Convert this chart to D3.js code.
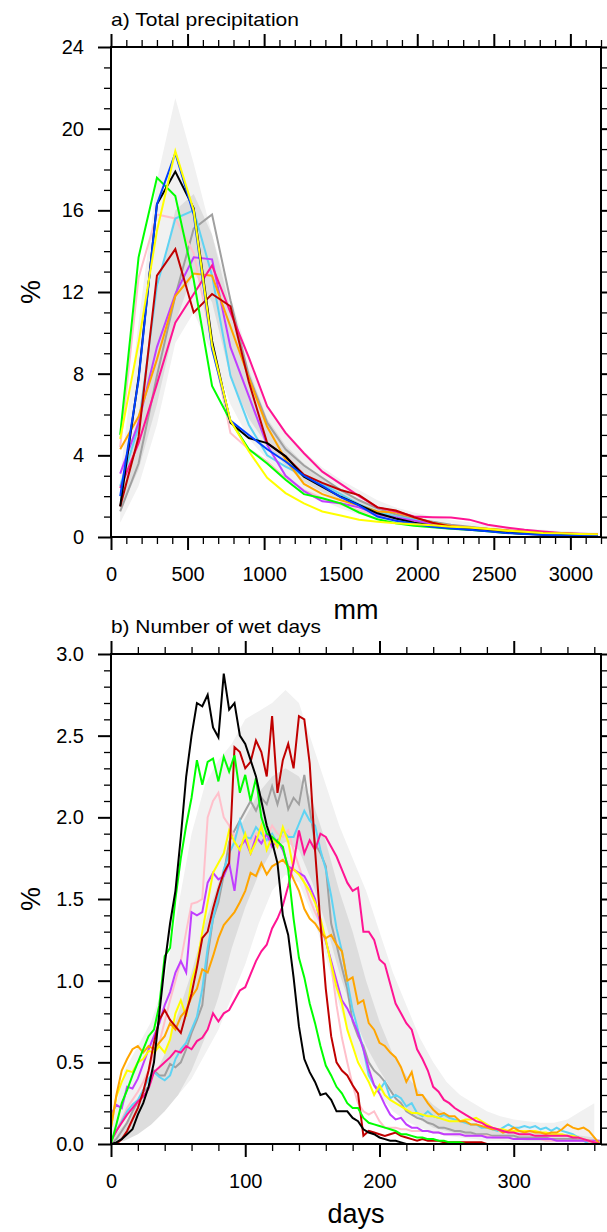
<!DOCTYPE html>
<html>
<head>
<meta charset="utf-8">
<script src="https://cdn.jsdelivr.net/npm/d3@7"></script>
<style>
  body { margin: 0; background: #fff; }
  svg text { font-family: "Liberation Sans", Arial, Helvetica, sans-serif; fill: #000; }
</style>
</head>
<body>
<div id="chart"></div>
<script>
// ---- panel a: total precipitation (% of grid cells per 120 mm bin)
const binCenters = [60,180,300,420,540,660,780,900,1020,1140,1260,1380,1500,1620,1740,1860,1980,2100,2220,2340,2460,2580,2700,2820,2940,3060,3180];

const precipBlack  = [1.5,7.8,16.3,17.9,16.1,9.6,5.6,4.85,4.6,3.95,2.95,2.45,1.97,1.57,1.16,0.91,0.7,0.55,0.45,0.37,0.3,0.22,0.16,0.11,0.08,0.06,0.05];
const precipRed    = [1.5,4.9,12.8,14.1,11.0,11.9,11.3,7.6,4.6,3.95,3.05,2.65,2.3,2.05,1.45,1.3,0.97,0.7,0.5,0.4,0.32,0.28,0.24,0.2,0.17,0.13,0.11];
const precipGreen  = [5.0,13.7,17.6,16.7,12.6,7.4,5.7,4.3,3.6,2.8,2.1,1.9,1.65,1.2,0.87,0.67,0.55,0.48,0.41,0.36,0.28,0.2,0.17,0.15,0.12,0.1,0.09];
const precipBlue   = [2.0,7.7,16.3,18.8,15.8,9.2,5.7,5.0,4.3,3.7,3.0,2.5,1.95,1.55,1.0,0.8,0.65,0.5,0.42,0.35,0.28,0.2,0.15,0.11,0.08,0.06,0.05];
const precipYellow = [4.8,9.5,15.0,18.9,16.0,9.4,5.7,4.2,2.9,2.15,1.65,1.25,1.05,0.85,0.75,0.67,0.62,0.57,0.5,0.46,0.39,0.31,0.26,0.2,0.18,0.15,0.13];
const precipCyan   = [2.5,5.4,12.3,15.6,16.0,12.8,7.9,5.5,4.0,3.45,3.0,2.6,2.1,1.6,1.25,1.0,0.85,0.7,0.55,0.45,0.38,0.3,0.25,0.2,0.17,0.14,0.12];
const precipPink   = [4.4,12.7,15.8,15.6,13.9,9.5,5.1,4.3,3.7,2.9,2.3,1.9,1.6,1.3,1.05,0.85,0.7,0.6,0.5,0.42,0.35,0.28,0.22,0.17,0.13,0.1,0.08];
const precipGray   = [1.25,3.6,7.9,11.8,15.1,15.8,11.6,7.9,5.6,4.3,3.5,2.9,2.3,1.8,1.4,1.1,0.9,0.75,0.6,0.5,0.4,0.33,0.27,0.22,0.18,0.15,0.13];
const precipPurple = [3.1,5.6,9.3,11.9,13.7,13.6,9.3,6.9,4.5,3.0,2.25,1.75,1.65,1.45,1.1,0.95,0.8,0.65,0.55,0.45,0.37,0.3,0.24,0.2,0.16,0.13,0.11];
const precipOrange = [4.3,5.9,8.7,11.8,12.9,12.8,10.3,7.8,5.4,3.8,2.6,2.1,1.8,1.55,1.25,1.2,0.96,0.7,0.55,0.47,0.4,0.33,0.27,0.22,0.18,0.14,0.12];
const precipMagenta= [2.4,4.6,7.5,10.5,11.9,13.3,11.0,8.8,6.4,5.1,4.1,3.2,2.6,2.0,1.45,1.25,1.0,0.97,0.95,0.85,0.6,0.47,0.35,0.27,0.2,0.16,0.13];

const precipOuterLo = [0.7,2.5,5.5,9.5,11.0,9.0,6.5,4.8,3.8,3.0,2.3,1.8,1.4,1.1,0.85,0.68,0.55,0.45,0.36,0.29,0.23,0.18,0.14,0.11,0.08,0.06,0.05];
const precipOuterHi = [3.0,10.5,17.5,21.5,18.3,14.8,11.8,8.8,6.5,5.2,4.2,3.4,2.8,2.3,1.8,1.45,1.2,1.0,0.85,0.72,0.6,0.5,0.42,0.35,0.3,0.25,0.22];
const precipInnerLo = [1.3,3.3,6.5,10.5,13.0,11.5,7.8,5.8,4.5,3.5,2.7,2.2,1.8,1.4,1.1,0.9,0.72,0.58,0.47,0.38,0.3,0.24,0.19,0.15,0.12,0.1,0.08];
const precipInnerHi = [2.0,6.0,12.0,16.0,16.8,14.8,11.2,8.2,5.8,4.5,3.6,2.9,2.3,1.85,1.45,1.15,0.95,0.78,0.64,0.52,0.42,0.34,0.27,0.22,0.18,0.15,0.12];

const precipXTicks = [0,500,1000,1500,2000,2500,3000];
const precipYTicks = [0,4,8,12,16,20,24];

// ---- panel b: number of wet days (% of grid cells per day)
const dayPoints = [0,4,8,12,16,20,24,28,32,36,40,44,48,52,56,60,64,68,72,76,80,84,88,92,96,100,104,108,112,116,120,124,128,132,136,140,144,148,152,156,160,164,168,172,176,180,184,188,192,196,200,204,208,212,216,220,224,228,232,236,240,244,248,252,256,260,264,268,272,276,280,284,288,292,296,300,304,308,312,316,320,324,328,332,336,340,344,348,352,356,360,364];

const wetBlack = [0,0.01,0.03,0.06,0.09,0.18,0.25,0.35,0.5,0.8,
  1.1,1.35,1.55,1.88,2.25,2.5,2.7,2.68,2.75,2.55,
  2.49,2.88,2.66,2.7,2.5,2.45,2.35,2.25,2.1,1.95,
  1.85,1.72,1.4,1.28,1.02,0.72,0.52,0.44,0.38,0.3,
  0.31,0.27,0.2,0.2,0.2,0.16,0.14,0.09,0.07,0.06,
  0.04,0.03,0.02,0.02,0.01,0,0,0,0,0,
  0,0,0,0,0,0,0,0,0,0,
  0,0,0,0,0,0,0,0,0,0,
  0,0,0,0,0,0,0,0,0,0,
  0,0];
const wetGreen = [0,0.12,0.25,0.33,0.42,0.5,0.58,0.66,0.7,0.85,
  1.15,1.2,1.5,1.75,1.95,2.12,2.35,2.2,2.34,2.36,
  2.22,2.37,2.28,2.38,2.15,2.26,2.1,2.24,2.0,1.9,
  1.88,1.85,1.82,1.68,1.38,1.14,1.02,0.86,0.74,0.6,
  0.48,0.42,0.35,0.31,0.25,0.22,0.22,0.16,0.13,0.12,
  0.11,0.1,0.09,0.08,0.06,0.06,0.05,0.04,0.04,0.03,
  0.03,0.02,0.02,0.01,0.01,0.01,0,0,0,0,
  0,0,0,0,0,0,0,0,0,0,
  0,0,0,0,0,0,0,0,0,0,
  0,0];
const wetRed = [0,0,0.03,0.08,0.15,0.22,0.32,0.45,0.62,0.76,
  0.82,0.76,0.72,0.68,0.8,0.92,1.08,1.26,1.3,1.44,
  1.56,1.66,1.72,2.43,2.4,2.3,2.34,2.47,2.4,2.25,
  2.62,2.15,2.35,2.45,2.3,2.62,2.6,2.33,1.8,1.35,
  0.95,0.66,0.5,0.45,0.42,0.36,0.31,0.05,0.08,0.07,
  0.06,0.05,0.06,0.07,0.05,0.04,0.03,0.02,0.03,0.02,
  0.02,0.02,0.01,0.01,0.01,0.01,0.01,0.01,0.01,0.01,
  0,0,0,0,0,0,0,0,0,0,
  0,0,0,0,0,0,0,0,0,0,
  0,0];
const wetPink = [0,0.08,0.15,0.22,0.27,0.32,0.38,0.45,0.55,0.62,
  0.75,0.88,1.0,1.12,1.3,1.47,1.48,1.5,2.0,2.1,
  2.15,2.0,1.95,1.88,1.95,1.9,1.85,1.9,1.92,1.88,
  1.95,1.9,1.88,1.92,1.8,1.7,1.6,1.5,1.42,1.35,
  1.25,1.1,0.85,0.65,0.5,0.36,0.25,0.2,0.18,0.2,
  0.14,0.1,0.1,0.1,0.09,0.09,0.08,0.08,0.08,0.08,
  0.07,0.07,0.06,0.06,0.06,0.06,0.05,0.05,0.05,0.05,
  0.05,0.04,0.04,0.04,0.04,0.03,0.03,0.03,0.03,0.03,
  0.03,0.02,0.02,0.02,0.02,0.02,0.02,0.02,0.02,0.01,
  0.01,0];
const wetGray = [0,0.03,0.08,0.13,0.2,0.26,0.32,0.35,0.45,0.42,
  0.42,0.49,0.47,0.5,0.58,0.68,0.76,0.85,1.15,1.38,
  1.48,1.65,1.85,1.92,1.98,2.04,2.1,2.04,2.12,2.08,
  2.19,2.08,2.2,2.05,2.12,2.08,2.26,2.05,1.84,1.78,
  1.7,1.35,1.22,1.08,0.95,0.75,0.66,0.6,0.5,0.45,
  0.42,0.38,0.33,0.28,0.25,0.2,0.18,0.16,0.15,0.13,
  0.12,0.1,0.1,0.09,0.08,0.08,0.07,0.07,0.06,0.06,
  0.06,0.05,0.05,0.05,0.05,0.05,0.04,0.04,0.04,0.04,
  0.04,0.04,0.03,0.03,0.03,0.03,0.03,0.03,0.02,0.02,
  0.02,0.02];
const wetYellow = [0.1,0.29,0.38,0.45,0.44,0.5,0.52,0.57,0.56,0.6,
  0.56,0.64,0.8,0.88,0.78,1.0,1.1,1.3,1.48,1.66,
  1.72,1.78,1.92,1.85,1.8,1.9,1.78,1.85,1.95,1.8,
  1.88,1.82,1.94,1.85,1.68,1.65,1.6,1.55,1.48,1.38,
  1.25,1.1,0.96,0.86,0.7,0.6,0.5,0.44,0.38,0.3,
  0.36,0.3,0.27,0.25,0.23,0.21,0.19,0.19,0.18,0.17,
  0.17,0.16,0.15,0.14,0.14,0.14,0.15,0.15,0.16,0.14,
  0.12,0.1,0.09,0.09,0.08,0.08,0.08,0.08,0.08,0.08,
  0.07,0.07,0.06,0.06,0.06,0.05,0.05,0.04,0.03,0.02,
  0.01,0];
const wetCyan = [0.02,0.08,0.14,0.2,0.24,0.27,0.33,0.4,0.44,0.41,
  0.39,0.42,0.52,0.58,0.62,0.7,0.78,0.95,1.2,1.38,
  1.52,1.68,1.78,1.85,1.98,1.88,1.87,1.94,1.9,1.86,
  1.9,1.84,1.92,1.88,1.88,1.96,2.04,1.98,1.95,1.8,
  1.68,1.52,1.32,1.18,1.0,0.82,0.7,0.58,0.42,0.36,
  0.33,0.38,0.28,0.3,0.28,0.23,0.25,0.19,0.17,0.2,
  0.17,0.16,0.18,0.16,0.15,0.14,0.13,0.12,0.12,0.1,
  0.1,0.09,0.08,0.1,0.12,0.1,0.1,0.11,0.1,0.11,
  0.09,0.1,0.08,0.1,0.08,0.07,0.06,0.04,0.02,0,
  0,0];
const wetPurple = [0.18,0.24,0.22,0.35,0.34,0.4,0.49,0.58,0.66,0.74,
  0.85,0.93,1.05,1.12,1.05,1.42,1.4,1.42,1.6,1.66,
  1.62,1.64,1.72,1.55,1.82,1.86,1.78,1.88,1.84,1.9,
  1.82,1.86,1.8,1.7,1.68,1.66,1.64,1.58,1.5,1.35,
  1.24,1.12,1.0,0.88,0.83,0.76,0.68,0.58,0.46,0.36,
  0.31,0.24,0.18,0.15,0.16,0.12,0.1,0.1,0.08,0.08,
  0.07,0.07,0.06,0.06,0.06,0.06,0.05,0.05,0.05,0.05,
  0.04,0.04,0.04,0.04,0.04,0.03,0.03,0.03,0.03,0.03,
  0.03,0.03,0.03,0.02,0.02,0.02,0.02,0.02,0.02,0.02,
  0.02,0.02];
const wetOrange = [0.1,0.3,0.45,0.52,0.58,0.6,0.56,0.6,0.58,0.62,
  0.66,0.74,0.7,0.78,0.82,0.9,0.95,1.07,1.05,1.15,
  1.26,1.34,1.38,1.42,1.48,1.55,1.66,1.64,1.72,1.65,
  1.7,1.72,1.74,1.7,1.62,1.55,1.44,1.38,1.35,1.3,
  1.26,1.28,1.22,1.18,1.0,1.02,0.86,0.88,0.74,0.7,
  0.62,0.6,0.56,0.53,0.47,0.38,0.44,0.3,0.3,0.25,
  0.21,0.18,0.19,0.17,0.17,0.14,0.14,0.12,0.12,0.11,
  0.1,0.09,0.09,0.07,0.08,0.1,0.08,0.07,0.08,0.07,
  0.07,0.06,0.07,0.07,0.09,0.12,0.1,0.09,0.1,0.08,
  0.04,0];
const wetMagenta = [0.02,0.08,0.13,0.18,0.22,0.26,0.29,0.34,0.44,0.47,
  0.5,0.53,0.57,0.56,0.6,0.58,0.63,0.65,0.7,0.8,
  0.75,0.8,0.82,0.88,0.94,0.96,1.04,1.12,1.18,1.22,
  1.32,1.38,1.46,1.58,1.72,1.92,1.78,1.86,1.8,1.9,
  1.88,1.82,1.76,1.68,1.6,1.55,1.57,1.3,1.3,1.25,
  1.13,1.1,0.98,0.86,0.8,0.74,0.7,0.58,0.52,0.45,
  0.35,0.32,0.27,0.25,0.22,0.2,0.18,0.16,0.14,0.13,
  0.11,0.1,0.09,0.08,0.07,0.07,0.06,0.06,0.06,0.05,
  0.05,0.05,0.05,0.05,0.05,0.05,0.04,0.04,0.03,0.02,
  0.01,0];

const bandDays = [0,10,20,30,40,50,60,70,80,90,100,110,120,130,140,150,160,170,180,190,200,210,220,230,240,250,260,270,280,290,300,310,320,330,340,350,360];
const wetOuterLo = [0,0.03,0.08,0.15,0.22,0.3,0.4,0.55,0.7,0.9,1.1,1.35,1.55,1.65,1.6,1.4,1.15,0.85,0.6,0.42,0.3,0.2,0.14,0.1,0.07,0.05,0.04,0.03,0.02,0.02,0.01,0.01,0.01,0.01,0.01,0.01,0.01];
const wetOuterHi = [0.1,0.45,0.6,0.75,1.0,1.45,1.9,2.2,2.35,2.45,2.6,2.65,2.7,2.78,2.7,2.45,2.2,1.95,1.75,1.55,1.3,1.05,0.85,0.65,0.5,0.38,0.3,0.25,0.2,0.17,0.15,0.14,0.13,0.13,0.15,0.2,0.25];
const wetInnerLo = [0,0.02,0.06,0.12,0.2,0.3,0.45,0.65,0.9,1.2,1.45,1.65,1.8,1.85,1.8,1.6,1.35,1.05,0.8,0.6,0.45,0.32,0.22,0.15,0.1,0.08,0.06,0.05,0.04,0.03,0.03,0.02,0.02,0.02,0.02,0.01,0.01];
const wetInnerHi = [0.03,0.12,0.25,0.38,0.55,0.8,1.05,1.35,1.6,1.85,2.0,2.15,2.25,2.3,2.25,2.1,1.85,1.55,1.3,1.0,0.75,0.55,0.42,0.32,0.24,0.18,0.14,0.12,0.1,0.09,0.08,0.07,0.07,0.06,0.06,0.05,0.04];

const dayXTicks = [0,100,200,300];
const wetYTicks = [0,0.5,1.0,1.5,2.0,2.5,3.0];

// ---- layout
const W = 607, H = 1232;
const left = 111, plotW = 490, plotH = 490;
const topA = 47, topB = 654;
const lineW = 2;

const svg = d3.select("#chart").append("svg")
    .attr("width", W)
    .attr("height", H);

function drawPanel(opt) {
    const g = svg.append("g").attr("transform", `translate(${left},${opt.top})`);
    const x = d3.scaleLinear().domain(opt.xDomain).range([0, plotW]);
    const y = d3.scaleLinear().domain(opt.yDomain).range([plotH, 0]);

    const clipId = "clip-" + opt.id;
    g.append("clipPath").attr("id", clipId)
        .append("rect").attr("width", plotW).attr("height", plotH);
    const plot = g.append("g").attr("clip-path", `url(#${clipId})`);

    // spread bands
    const band = (lo, hi) => d3.area()
        .x((d, i) => x(opt.bandX[i]))
        .y0((d, i) => y(lo[i]))
        .y1((d, i) => y(hi[i]));
    plot.append("path").datum(opt.outerLo)
        .attr("d", band(opt.outerLo, opt.outerHi))
        .attr("fill", "#f1f1f1");
    plot.append("path").datum(opt.innerLo)
        .attr("d", band(opt.innerLo, opt.innerHi))
        .attr("fill", "#dddddd");

    const line = d3.line()
        .x((d, i) => x(opt.xs[i]))
        .y(d => y(d));
    opt.series.forEach(s => {
        plot.append("path").datum(s.values)
            .attr("d", line)
            .attr("fill", "none")
            .attr("stroke", s.color)
            .attr("stroke-width", lineW)
            .attr("stroke-linejoin", "miter");
    });

    // axes: majors with labels, minors without, mirrored on top/right
    const styleAxis = sel => {
        sel.select(".domain").remove();
        sel.selectAll("line").attr("stroke", "#000");
        sel.selectAll("text").attr("font-size", 20).attr("fill", "#000");
    };
    const addAxis = (axis, tr, major) => {
        const a = g.append("g").attr("transform", tr).call(axis);
        styleAxis(a);
        a.selectAll("line").attr("stroke-width", major ? 2 : 1.3);
        return a;
    };
    addAxis(d3.axisBottom(x).tickValues(opt.xMajor).tickSize(13).tickPadding(17).tickFormat(d3.format("d")), `translate(0,${plotH})`, true);
    addAxis(d3.axisBottom(x).tickValues(opt.xMinor).tickSize(7).tickFormat(""), `translate(0,${plotH})`, false);
    addAxis(d3.axisTop(x).tickValues(opt.xMajor).tickSize(13).tickFormat(""), "translate(0,0)", true);
    addAxis(d3.axisTop(x).tickValues(opt.xMinor).tickSize(7).tickFormat(""), "translate(0,0)", false);
    addAxis(d3.axisLeft(y).tickValues(opt.yMajor).tickSize(13).tickPadding(14).tickFormat(opt.fmt), "translate(0,0)", true);
    addAxis(d3.axisLeft(y).tickValues(opt.yMinor).tickSize(7).tickFormat(""), "translate(0,0)", false);
    addAxis(d3.axisRight(y).tickValues(opt.yMajor).tickSize(13).tickFormat(""), `translate(${plotW},0)`, true);
    addAxis(d3.axisRight(y).tickValues(opt.yMinor).tickSize(7).tickFormat(""), `translate(${plotW},0)`, false);

    g.append("rect")
        .attr("width", plotW).attr("height", plotH)
        .attr("fill", "none").attr("stroke", "#000").attr("stroke-width", 2);

    // titles
    g.append("text").attr("x", 0).attr("y", -21)
        .attr("font-size", 19)
        .attr("textLength", opt.titleWidth)
        .attr("lengthAdjust", "spacingAndGlyphs")
        .text(opt.title);
    g.append("text").attr("x", plotW / 2).attr("y", opt.xTitleY)
        .attr("text-anchor", "middle").attr("font-size", 27).text(opt.xTitle);
    g.append("text")
        .attr("transform", `translate(${40 - left},${plotH / 2}) rotate(-90)`)
        .attr("text-anchor", "middle").attr("font-size", 27).text("%");
}

drawPanel({
    id: "a", top: topA, title: "a) Total precipitation", titleWidth: 188,
    xTitle: "mm", xTitleY: 572,
    xDomain: [0, 3200], yDomain: [0, 24],
    xs: binCenters, bandX: binCenters,
    outerLo: precipOuterLo, outerHi: precipOuterHi,
    innerLo: precipInnerLo, innerHi: precipInnerHi,
    xMajor: precipXTicks, xMinor: d3.range(0, 3201, 100).filter(v => v % 500),
    yMajor: precipYTicks, yMinor: d3.range(0, 25, 1).filter(v => v % 4),
    fmt: d3.format("d"),
    series: [
        { color: "#a0a0a0", values: precipGray },
        { color: "#ffc0cb", values: precipPink },
        { color: "#5fd3f3", values: precipCyan },
        { color: "#c03eff", values: precipPurple },
        { color: "#ffa500", values: precipOrange },
        { color: "#ff1493", values: precipMagenta },
        { color: "#c00000", values: precipRed },
        { color: "#00ff00", values: precipGreen },
        { color: "#000000", values: precipBlack },
        { color: "#0040ff", values: precipBlue },
        { color: "#ffff00", values: precipYellow }
    ]
});

drawPanel({
    id: "b", top: topB, title: "b) Number of wet days", titleWidth: 210,
    xTitle: "days", xTitleY: 569,
    xDomain: [0, 365], yDomain: [0, 3],
    xs: dayPoints, bandX: bandDays,
    outerLo: wetOuterLo, outerHi: wetOuterHi,
    innerLo: wetInnerLo, innerHi: wetInnerHi,
    xMajor: dayXTicks, xMinor: d3.range(0, 366, 20).filter(v => v % 100),
    yMajor: wetYTicks, yMinor: d3.range(0, 31, 1).filter(v => v % 5).map(v => v / 10),
    fmt: d3.format(".1f"),
    series: [
        { color: "#a0a0a0", values: wetGray },
        { color: "#ffc0cb", values: wetPink },
        { color: "#5fd3f3", values: wetCyan },
        { color: "#c03eff", values: wetPurple },
        { color: "#ffff00", values: wetYellow },
        { color: "#ffa500", values: wetOrange },
        { color: "#ff1493", values: wetMagenta },
        { color: "#c00000", values: wetRed },
        { color: "#00ff00", values: wetGreen },
        { color: "#000000", values: wetBlack }
    ]
});
</script>
</body>
</html>
